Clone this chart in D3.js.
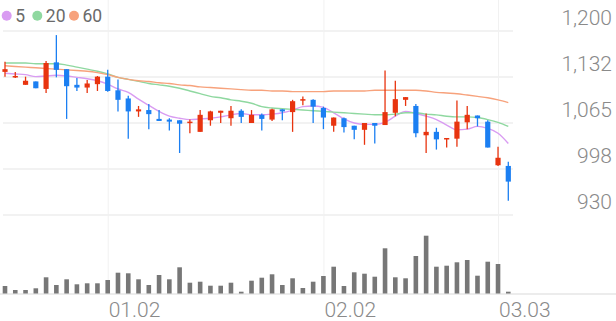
<!DOCTYPE html>
<html>
<head>
<meta charset="utf-8">
<script src="https://cdn.jsdelivr.net/npm/d3@7"></script>
<style>
  body { margin: 0; background: #fff; }
  svg { display: block; font-family: Roboto, "Noto Sans", sans-serif; }
</style>
</head>
<body>
<svg id="chart" width="616" height="321"></svg>
<script>
// trading days, 2025-12-16 .. 2026-03-04
var dates = ["12.16","12.17","12.18","12.19","12.22","12.23","12.24","12.26","12.29","12.30",
  "01.02","01.05","01.06","01.07","01.08","01.09","01.12","01.13","01.14","01.15",
  "01.16","01.19","01.20","01.21","01.22","01.23","01.26","01.27","01.28","01.29",
  "01.30","02.02","02.03","02.04","02.05","02.06","02.09","02.10","02.11","02.12",
  "02.13","02.19","02.20","02.23","02.24","02.25","02.26","02.27","03.03","03.04"];

var openP  = [1140,1132,1121,1126,1115,1154,1144,1121,1117,1122,
  1133,1113,1101,1082,1084,1071,1070,1069,1065,1052,
  1069,1080,1072,1083,1065,1077,1070,1085,1081,1098,
  1099,1087,1061,1072,1061,1055,1065,1062,1080,1099,
  1090,1047,1052,1041,1042,1066,1076,1067,1003,1002];
var highP  = [1155,1140,1133,1126,1156,1194,1144,1131,1128,1134,
  1143,1129,1105,1090,1093,1084,1072,1069,1070,1084,
  1083,1083,1090,1085,1084,1079,1086,1085,1099,1104,
  1100,1089,1073,1073,1061,1065,1065,1142,1127,1103,
  1093,1079,1058,1043,1098,1090,1076,1069,1030,1008];
var lowP   = [1133,1131,1121,1116,1109,1132,1071,1112,1109,1112,
  1111,1082,1042,1074,1056,1068,1054,1021,1050,1052,
  1061,1065,1061,1065,1065,1054,1068,1069,1052,1091,
  1065,1056,1052,1051,1041,1033,1035,1062,1075,1090,
  1044,1021,1026,1029,1030,1056,1060,1029,1002,951];
var closeP = [1144,1134,1127,1116,1153,1143,1119,1117,1123,1133,
  1112,1099,1082,1085,1078,1068,1067,1064,1067,1077,
  1082,1083,1083,1074,1077,1071,1085,1082,1097,1100,
  1089,1073,1073,1059,1055,1065,1061,1081,1100,1103,
  1050,1052,1041,1043,1067,1077,1072,1029,1014,979];
// volume, thousand shares
var volume = [150,70,70,104,324,170,284,184,204,204,
  270,416,404,284,170,370,284,524,216,236,
  156,156,216,36,256,316,384,170,304,110,
  236,350,536,150,424,396,336,904,324,304,
  750,1156,536,556,624,670,356,636,590,36];

var ma5  = [1138,1137,1136,1133,1134,1135,1134,1132,1130,1127,
  1122,1115,1110,1100,1091,1082,1075,1072,1070,1071,
  1072,1074,1077,1079,1077,1077,1078,1080,1084,1089,
  1090,1088,1080,1071,1065,1063,1063,1066,1075,1082,
  1079,1075,1070,1062,1055,1056,1060,1057,1050,1035];
var ma20 = [1153,1153,1153,1152,1152,1152,1150,1147,1144,1141,
  1137,1132,1129,1126,1123,1121,1119,1116,1112,1108,
  1104,1102,1099,1097,1094,1089,1087,1086,1085,1084,
  1083,1082,1081,1080,1079,1078,1077,1077,1078,1080,
  1080,1078,1077,1075,1074,1074,1073,1070,1066,1060];
var ma60 = [1149,1148,1147,1146,1145,1144,1143,1142,1141,1139,
  1136,1132,1129,1127,1126,1124,1123,1121,1120,1118,
  1117,1116,1115,1114,1113,1113,1112,1112,1111,1111,
  1111,1111,1112,1112,1112,1112,1113,1113,1113,1113,
  1113,1112,1110,1109,1108,1106,1104,1102,1099,1095];

var yTicks = [1200, 1132.5, 1065, 997.5, 930];
var yTickLabels = ["1,200", "1,132", "1,065", "998", "930"];
var xTickLabels = ["01.02", "02.02", "03.03"];

var maSeries = [
  {name: "5",  values: ma5,  color: "#d99cf2"},
  {name: "20", values: ma20, color: "#8fd8a0"},
  {name: "60", values: ma60, color: "#f7a27c"}
];

var upColor = "#e8340f",
    downColor = "#1b7ff2";

var svg = d3.select("#chart");

var x = d3.scalePoint().domain(dates).range([5, 508.3]);
var y = d3.scaleLinear().domain([930, 1200]).range([215, 31]);
var yVol = d3.scaleLinear().domain([0, 1200]).range([293.5, 233.5]);

// horizontal grid
svg.append("g")
  .selectAll("line")
  .data(yTicks)
  .enter().append("line")
  .attr("x1", 3).attr("x2", 513)
  .attr("y1", function(d) { return y(d); })
  .attr("y2", function(d) { return y(d); })
  .attr("stroke", "#eeeeee")
  .attr("stroke-width", 1.5);

// x axis with vertical grid
var xAxis = svg.append("g")
  .attr("transform", "translate(0,294)")
  .call(d3.axisBottom(x).tickValues(xTickLabels).tickSize(-294));
xAxis.select(".domain").remove();
xAxis.selectAll(".tick line").attr("stroke", "#f1f1f1").attr("stroke-width", 1);
xAxis.selectAll(".tick text")
  .attr("text-anchor", "start")
  .attr("x", 0.5)
  .attr("y", 22.5)
  .attr("dy", null)
  .attr("fill", "#8a8a8a")
  .style("font-size", "21px")
  .style("font-weight", 300)
  .style("font-family", "Roboto, sans-serif");

// baseline under volume
svg.append("line")
  .attr("x1", 0).attr("x2", 616)
  .attr("y1", 294).attr("y2", 294)
  .attr("stroke", "#e6e6e6")
  .attr("stroke-width", 1.5);

// y labels
svg.append("g")
  .selectAll("text")
  .data(yTicks)
  .enter().append("text")
  .attr("x", 612)
  .attr("y", function(d) { return y(d) - 6; })
  .attr("text-anchor", "end")
  .attr("fill", "#8a8a8a")
  .style("font-size", "21px")
  .style("font-weight", 300)
  .text(function(d, i) { return yTickLabels[i]; });

// volume bars
svg.append("g")
  .selectAll("rect")
  .data(volume)
  .enter().append("rect")
  .attr("x", function(d, i) { return x(dates[i]) - 2.3; })
  .attr("width", 4.6)
  .attr("y", function(d) { return yVol(d); })
  .attr("height", function(d) { return yVol(0) - yVol(d); })
  .attr("fill", "#777777");

// moving averages
var line = d3.line()
  .x(function(d, i) { return x(dates[i]); })
  .y(function(d) { return y(d); })
  .curve(d3.curveMonotoneX);

svg.append("g")
  .selectAll("path")
  .data(maSeries)
  .enter().append("path")
  .attr("d", function(s) { return line(s.values); })
  .attr("fill", "none")
  .attr("stroke", function(s) { return s.color; })
  .attr("stroke-width", 1.4);

// candles
var candles = svg.append("g")
  .selectAll("g")
  .data(dates)
  .enter().append("g");

function col(i) { return closeP[i] >= openP[i] ? upColor : downColor; }

candles.append("line")
  .attr("x1", function(d) { return x(d); })
  .attr("x2", function(d) { return x(d); })
  .attr("y1", function(d, i) { return y(highP[i]); })
  .attr("y2", function(d, i) { return y(lowP[i]); })
  .attr("stroke", function(d, i) { return col(i); })
  .attr("stroke-width", 1.3);

candles.append("rect")
  .attr("x", function(d) { return x(d) - 2.6; })
  .attr("width", 5.2)
  .attr("y", function(d, i) { return y(Math.max(openP[i], closeP[i])); })
  .attr("height", function(d, i) { return Math.max(1.5, Math.abs(y(openP[i]) - y(closeP[i]))); })
  .attr("fill", function(d, i) { return col(i); });

// legend
var legend = svg.append("g");
var legendX = [6.7, 37.3, 74];
maSeries.forEach(function(s, i) {
  legend.append("circle")
    .attr("cx", legendX[i]).attr("cy", 15.7).attr("r", 5)
    .attr("fill", s.color);
  legend.append("text")
    .attr("x", legendX[i] + 8.5).attr("y", 22)
    .attr("fill", "#6a6a6a")
    .style("font-size", "17.5px")
    .text(s.name);
});
</script>
</body>
</html>
